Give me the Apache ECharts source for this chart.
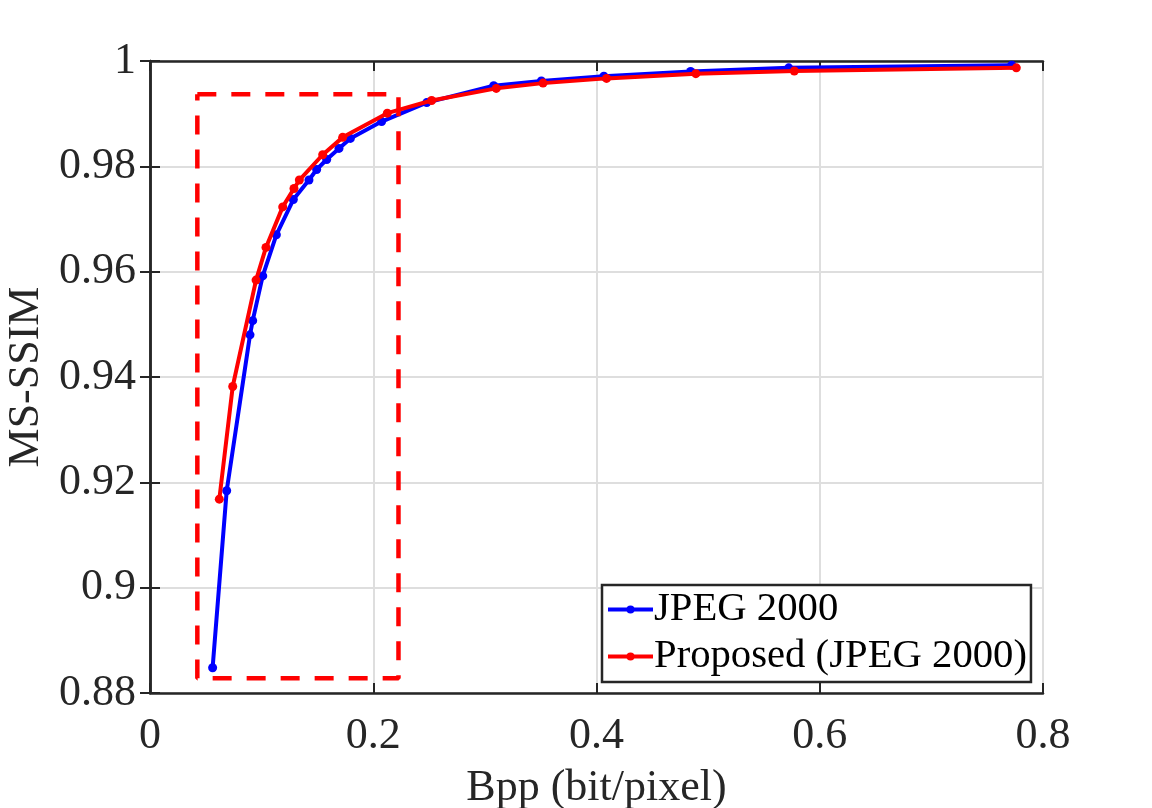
<!DOCTYPE html>
<html>
<head>
<meta charset="utf-8">
<script src="https://cdn.jsdelivr.net/npm/echarts@6/dist/echarts.min.js"></script>
<style>
html,body{margin:0;padding:0;background:#fff;}
#chart{width:1152px;height:808px;}
</style>
</head>
<body>
<div id="chart"></div>
<script>
// ---- data ----
const seriesNames = ['JPEG 2000', 'Proposed (JPEG 2000)'];
const jpegX = [0.0561, 0.0687, 0.0896, 0.0920, 0.1010, 0.1132, 0.1284, 0.1424, 0.1493, 0.1583, 0.1693, 0.1795, 0.2075, 0.2479, 0.3079, 0.3506, 0.4066, 0.4843, 0.5722, 0.7720];
const jpegY = [0.8848, 0.9184, 0.9480, 0.9507, 0.9592, 0.9670, 0.9737, 0.9774, 0.9794, 0.9813, 0.9834, 0.9853, 0.9885, 0.9921, 0.9953, 0.9962, 0.9971, 0.9980, 0.9987, 0.9992];
const propX = [0.0621, 0.0741, 0.0950, 0.1039, 0.1189, 0.1290, 0.1338, 0.1547, 0.1726, 0.2126, 0.2523, 0.3102, 0.3521, 0.4090, 0.4890, 0.5772, 0.7761];
const propY = [0.9168, 0.9382, 0.9584, 0.9646, 0.9723, 0.9758, 0.9774, 0.9822, 0.9855, 0.9901, 0.9925, 0.9948, 0.9958, 0.9967, 0.9976, 0.9981, 0.9987];
// dashed highlight rectangle (closed path)
const boxX = [0.0424, 0.2226, 0.2226, 0.0424, 0.0424];
const boxY = [0.99368, 0.99368, 0.88279, 0.88279, 0.99368];
const xTicks = {min: 0, max: 0.8, interval: 0.2};
const yTicks = {min: 0.88, max: 1, interval: 0.02};
const xTitle = 'Bpp (bit/pixel)';
const yTitle = 'MS-SSIM';

const zip = (a, b) => a.map((v, i) => [v, b[i]]);
const FONT = "'Liberation Serif', 'Times New Roman', serif";
const AX = '#262626';

const chart = echarts.init(document.getElementById('chart'), null, {renderer: 'canvas'});
const baseX = {
  type: 'value', min: xTicks.min, max: xTicks.max, interval: xTicks.interval,
  axisLine: {show: true, lineStyle: {color: AX, width: 2.5}},
  axisTick: {show: true, inside: true, length: 10, lineStyle: {color: AX, width: 2}},
};
const baseY = {
  type: 'value', min: yTicks.min, max: yTicks.max, interval: yTicks.interval,
  axisLine: {show: true, lineStyle: {color: AX, width: 2.5}},
  axisTick: {show: true, inside: true, length: 10, lineStyle: {color: AX, width: 2}},
};
chart.setOption({
  animation: false,
  backgroundColor: '#fff',
  grid: {left: 150, top: 61, width: 893, height: 632, containLabel: false, outerBoundsMode: 'none'},
  xAxis: [
    Object.assign({}, baseX, {
      position: 'bottom',
      name: xTitle, nameLocation: 'middle', nameGap: 73,
      nameTextStyle: {fontFamily: FONT, fontSize: 44, color: AX},
      axisLabel: {show: true, margin: 21, fontFamily: FONT, fontSize: 44, color: AX},
      splitLine: {show: true, lineStyle: {color: '#dedede', width: 2}}
    }),
    Object.assign({}, baseX, {
      position: 'top',
      axisLabel: {show: false}, splitLine: {show: false}
    })
  ],
  yAxis: [
    Object.assign({}, baseY, {
      position: 'left',
      name: yTitle, nameLocation: 'middle', nameGap: 100,
      nameTextStyle: {fontFamily: FONT, fontSize: 44, color: AX},
      axisLabel: {show: true, margin: 14, fontFamily: FONT, fontSize: 44, color: AX},
      splitLine: {show: true, lineStyle: {color: '#dedede', width: 2}}
    }),
    Object.assign({}, baseY, {
      position: 'right',
      axisLabel: {show: false}, splitLine: {show: false}
    })
  ],
  legend: {
    data: seriesNames,
    orient: 'vertical',
    left: 602, top: 585,
    padding: [1, 4, 2, 4],
    itemGap: 0,
    itemWidth: 45, itemHeight: 10,
    backgroundColor: '#fff',
    borderColor: AX, borderWidth: 2.5,
    lineStyle: {width: 4},
    textStyle: {fontFamily: FONT, fontSize: 40.7, color: '#000', lineHeight: 47, padding: [0, 0, 0, -4]},
    selectedMode: false
  },
  series: [
    {
      name: seriesNames[0], type: 'line', data: zip(jpegX, jpegY),
      symbol: 'circle', symbolSize: 9, showSymbol: true,
      lineStyle: {color: '#0000ff', width: 4},
      itemStyle: {color: '#0000ff'}, z: 3
    },
    {
      name: seriesNames[1], type: 'line', data: zip(propX, propY),
      symbol: 'circle', symbolSize: 9, showSymbol: true,
      lineStyle: {color: '#ff0000', width: 4},
      itemStyle: {color: '#ff0000'}, z: 4
    },
    {
      name: 'box', type: 'line', data: zip(boxX, boxY),
      symbol: 'none', silent: true,
      lineStyle: {color: '#ff0000', width: 4.5, type: [19, 15]},
      z: 5
    }
  ]
});
</script>
</body>
</html>
